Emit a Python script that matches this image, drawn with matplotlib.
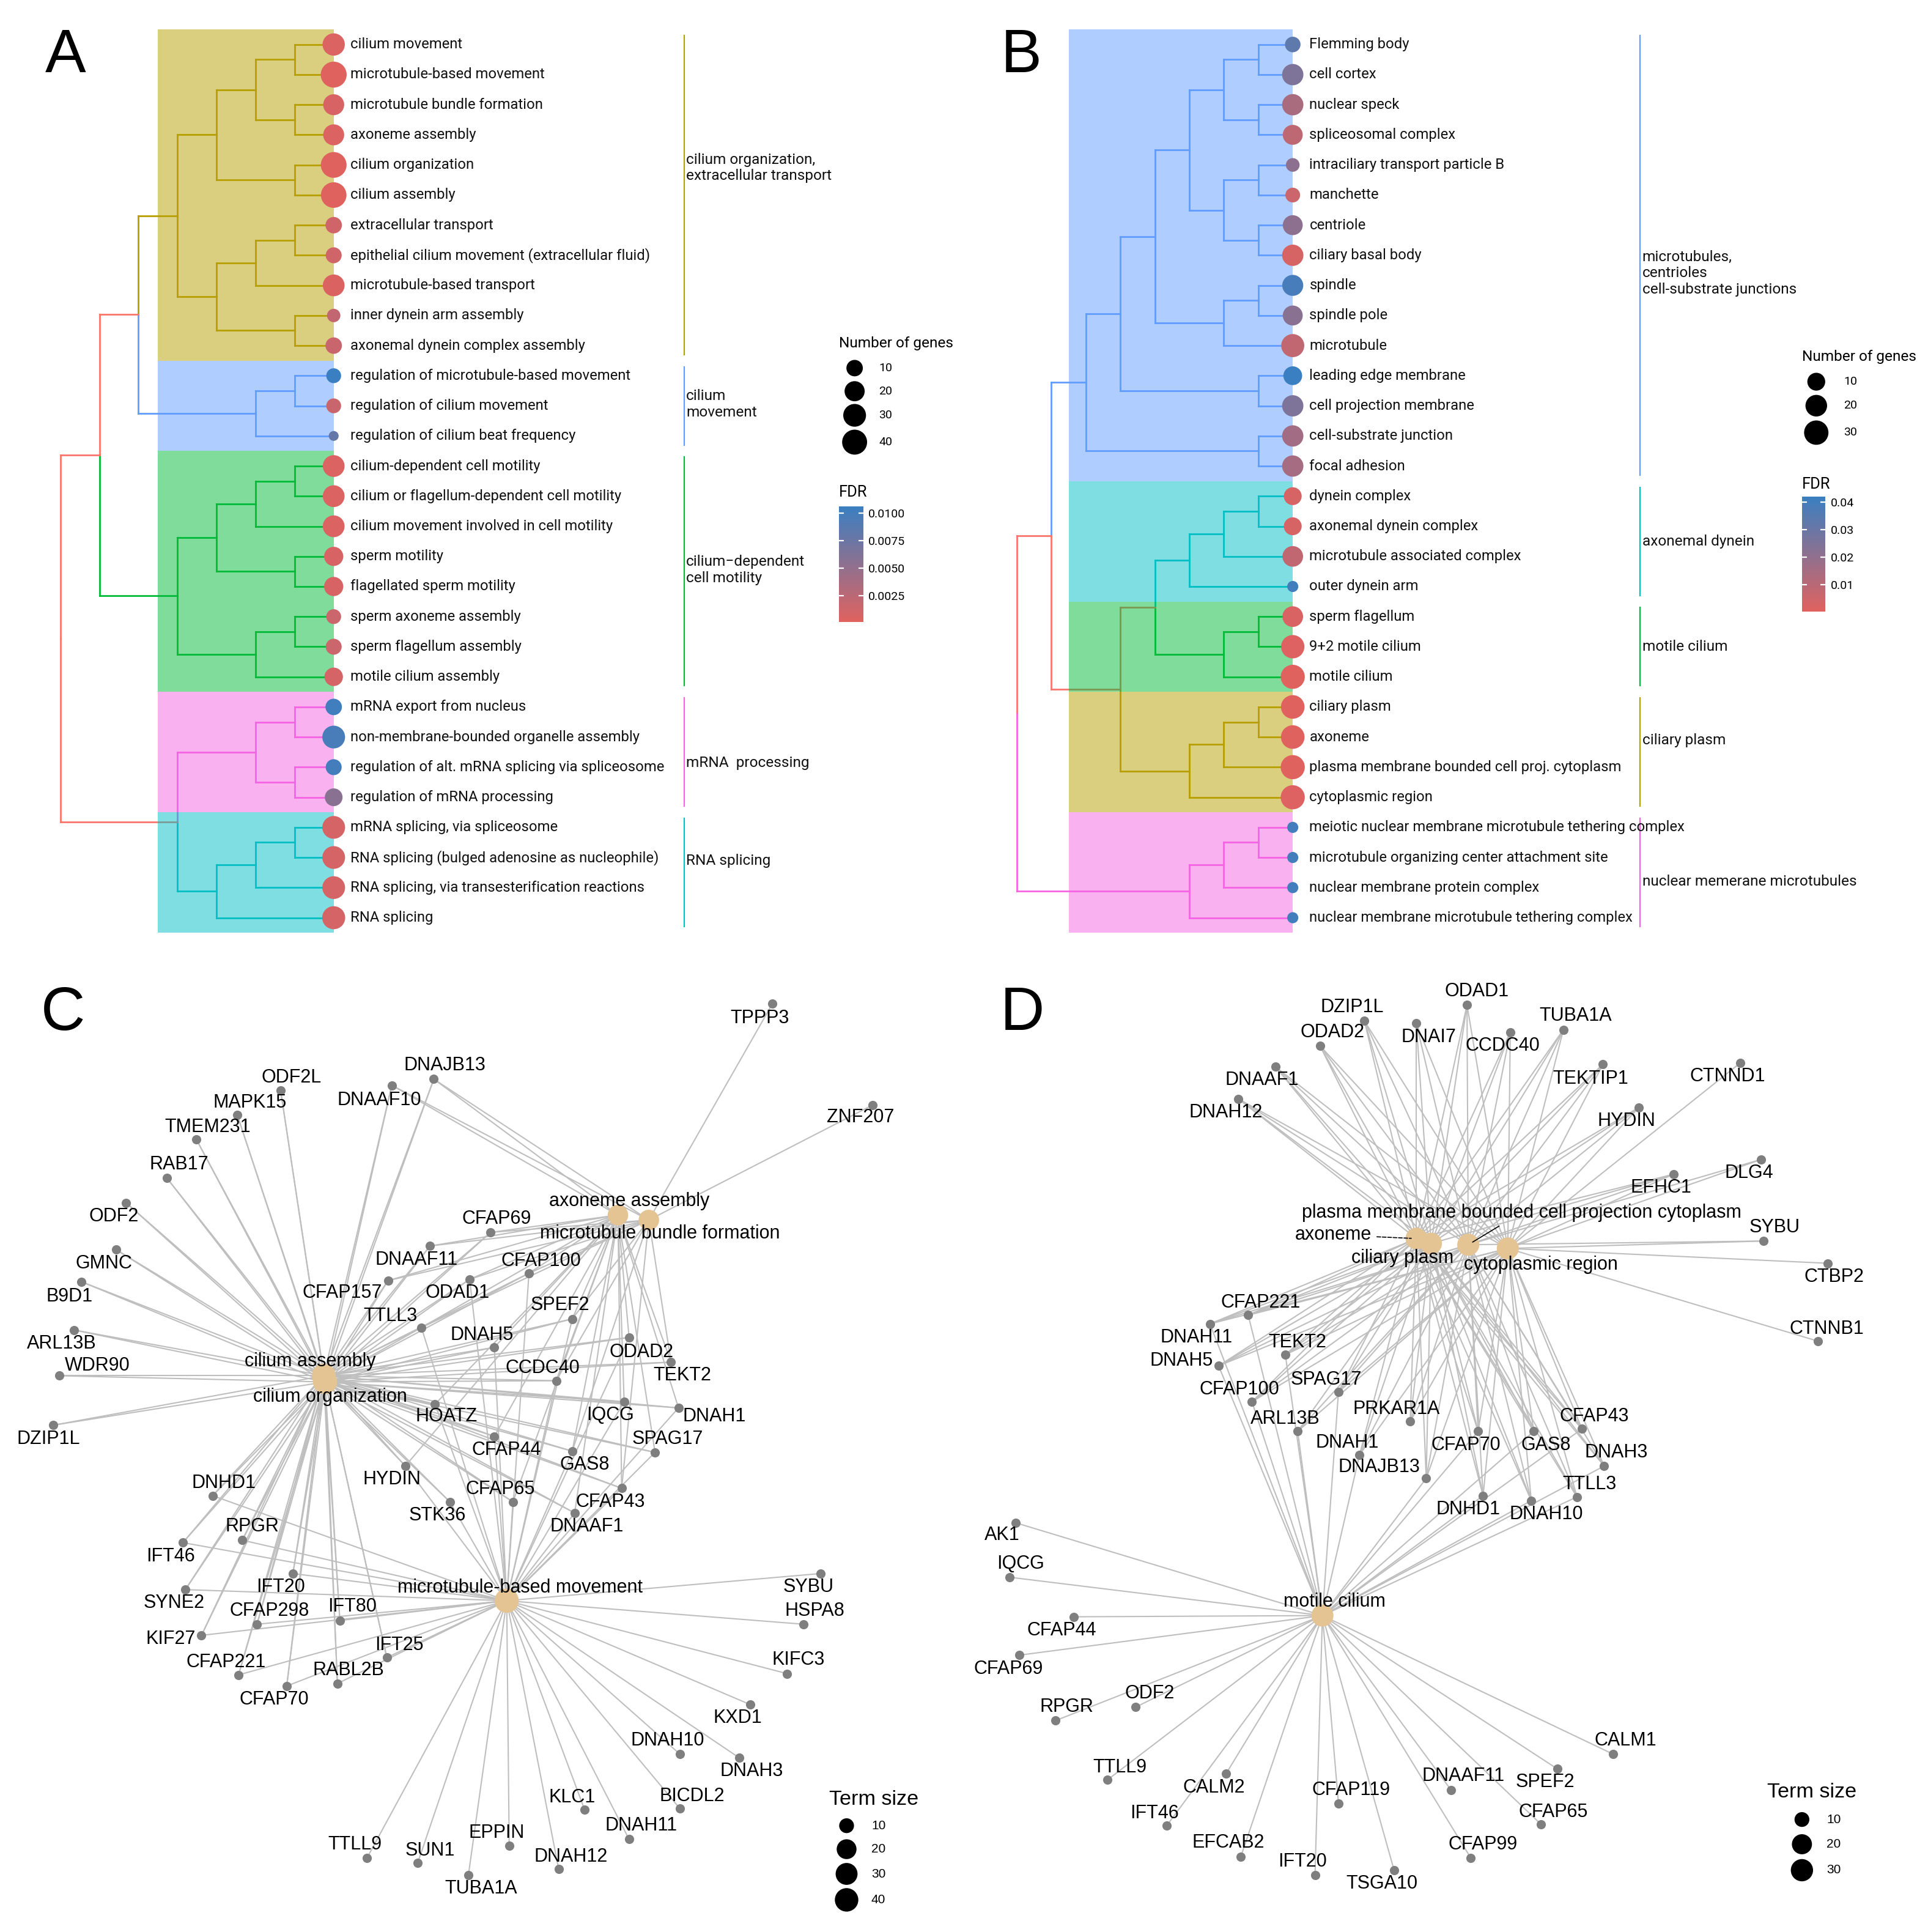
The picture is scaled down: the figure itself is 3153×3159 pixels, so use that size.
#!/usr/bin/env python3
"""Four-panel GO enrichment figure.

A, B: clustered enrichment trees (BP / CC) with FDR-coloured, size-scaled leaves.
C, D: gene-term networks for the top terms.
"""

import matplotlib
matplotlib.use("Agg")
import matplotlib.pyplot as plt
import matplotlib.transforms as mtransforms
import numpy as np
from matplotlib.cm import ScalarMappable
from matplotlib.collections import LineCollection
from matplotlib.colors import LinearSegmentedColormap, Normalize
from matplotlib.patches import Rectangle

OUT_PATH = "out.png"
DPI = 200
FIG_W, FIG_H = 3153 / DPI, 3159 / DPI
# layout was measured on a 1560 x 1563 grid of the original figure
REF_W, REF_H = 1560.0, 1563.0
PT = (3153 / REF_W) * 72.0 / DPI  # points per grid unit

TREE_FONT = ["Roboto", "DejaVu Sans"]
NET_FONT = ["Liberation Sans", "DejaVu Sans"]
TREE_WEIGHT = "normal"

GROUP_COLORS = {
    "gold": "#B79F00",
    "green": "#00BA38",
    "cyan": "#00BFC4",
    "blue": "#619CFF",
    "pink": "#F564E3",
}
MIXED_COLOR = "#F8766D"
FDR_CMAP = LinearSegmentedColormap.from_list("fdr", ["#E0625F", "#3A7FC1"])
TERM_COLOR = "#E5C494"
GENE_COLOR = "#7F7F7F"
EDGE_COLOR = "#BEBEBE"

# ---------------------------------------------------------------- panel A
A_TERMS = [
    "cilium movement", "microtubule-based movement", "microtubule bundle formation",
    "axoneme assembly", "cilium organization", "cilium assembly",
    "extracellular transport", "epithelial cilium movement (extracellular fluid)",
    "microtubule-based transport", "inner dynein arm assembly",
    "axonemal dynein complex assembly", "regulation of microtubule-based movement",
    "regulation of cilium movement", "regulation of cilium beat frequency",
    "cilium-dependent cell motility", "cilium or flagellum-dependent cell motility",
    "cilium movement involved in cell motility", "sperm motility",
    "flagellated sperm motility", "sperm axoneme assembly", "sperm flagellum assembly",
    "motile cilium assembly", "mRNA export from nucleus",
    "non-membrane-bounded organelle assembly",
    "regulation of alt. mRNA splicing via spliceosome", "regulation of mRNA processing",
    "mRNA splicing, via spliceosome", "RNA splicing (bulged adenosine as nucleophile)",
    "RNA splicing, via transesterification reactions", "RNA splicing",
]
A_NGENES = [28, 45, 23, 23, 44, 43, 10, 9, 26, 5, 10, 7, 7, 3, 26, 26, 26, 17, 17,
            7, 9, 15, 10, 30, 9, 13, 30, 30, 30, 31]
A_FDR = [0.0004, 0.0001, 0.0006, 0.0004, 0.0001, 0.0001, 0.0012, 0.0012, 0.0005,
         0.0020, 0.0016, 0.0106, 0.0016, 0.0080, 0.0004, 0.0004, 0.0004, 0.0006,
         0.0006, 0.0015, 0.0015, 0.0008, 0.0102, 0.0097, 0.0100, 0.0056, 0.0008,
         0.0008, 0.0008, 0.0008]
A_TREE = (
    (
        (
            ((((0, 1), (2, 3)), (4, 5)), (((6, 7), 8), (9, 10))),
            ((11, 12), 13),
        ),
        ((((14, 15), 16), (17, 18)), ((19, 20), 21)),
    ),
    (((22, 23), (24, 25)), (((26, 27), 28), 29)),
)
A_CLUSTERS = [(0, 10, "gold"), (11, 13, "blue"), (14, 21, "green"),
              (22, 25, "pink"), (26, 29, "cyan")]
A_CLUSTER_NAMES = ["cilium organization,\nextracellular transport", "cilium\nmovement",
                   "cilium\u2212dependent\ncell motility", "mRNA  processing",
                   "RNA splicing"]
A_CLUSTER_ROWS = [4.1, 11.95, 17.45, 23.86, 27.1]
A_SIZE_LEGEND = [10, 20, 30, 40]
A_FDR_TICKS = [0.0025, 0.0050, 0.0075, 0.0100]

# ---------------------------------------------------------------- panel B
B_TERMS = [
    "Flemming body", "cell cortex", "nuclear speck", "spliceosomal complex",
    "intraciliary transport particle B", "manchette", "centriole",
    "ciliary basal body", "spindle", "spindle pole", "microtubule",
    "leading edge membrane", "cell projection membrane", "cell-substrate junction",
    "focal adhesion", "dynein complex", "axonemal dynein complex",
    "microtubule associated complex", "outer dynein arm", "sperm flagellum",
    "9+2 motile cilium", "motile cilium", "ciliary plasm", "axoneme",
    "plasma membrane bounded cell proj. cytoplasm", "cytoplasmic region",
    "meiotic nuclear membrane microtubule tethering complex",
    "microtubule organizing center attachment site",
    "nuclear membrane protein complex", "nuclear membrane microtubule tethering complex",
]
B_NGENES = [6, 19, 19, 15, 4, 5, 15, 19, 18, 15, 25, 12, 19, 19, 19, 10, 10, 17, 3,
            17, 26, 29, 27, 27, 29, 29, 3, 3, 3, 3]
B_FDR = [0.033, 0.025, 0.014, 0.009, 0.021, 0.006, 0.021, 0.003, 0.039, 0.022,
         0.008, 0.042, 0.025, 0.016, 0.015, 0.003, 0.003, 0.008, 0.040, 0.002,
         0.001, 0.0005, 0.0003, 0.0003, 0.0003, 0.001, 0.040, 0.040, 0.040, 0.040]
B_TREE = (
    (
        ((((((0, 1), (2, 3)), ((4, 5), (6, 7))), ((8, 9), 10)), (11, 12)), (13, 14)),
        (((((15, 16), 17), 18), ((19, 20), 21)), (((22, 23), 24), 25)),
    ),
    (((26, 27), 28), 29),
)
B_CLUSTERS = [(0, 14, "blue"), (15, 18, "cyan"), (19, 21, "green"),
              (22, 25, "gold"), (26, 29, "pink")]
B_CLUSTER_NAMES = ["microtubules,\ncentrioles\ncell-substrate junctions",
                   "axonemal dynein", "motile cilium", "ciliary plasm",
                   "nuclear memerane microtubules"]
B_CLUSTER_ROWS = [7.6, 16.5, 20.0, 23.1, 27.8]
B_SIZE_LEGEND = [10, 20, 30]
B_FDR_TICKS = [0.01, 0.02, 0.03, 0.04]

# ---------------------------------------------------------------- panel C
C_TERMS = ["cilium assembly", "cilium organization", "axoneme assembly",
           "microtubule bundle formation", "microtubule-based movement"]
C_TERM_CODES = "AOXBM"
C_TERM_SIZE = [43, 44, 23, 23, 45]
C_GENES = [
    "TPPP3", "ZNF207", "DNAJB13", "DNAAF10", "ODF2L", "MAPK15", "TMEM231", "RAB17",
    "ODF2", "GMNC", "B9D1", "ARL13B", "WDR90", "DZIP1L", "CFAP69", "DNAAF11",
    "CFAP100", "CFAP157", "ODAD1", "SPEF2", "TTLL3", "DNAH5", "ODAD2", "TEKT2",
    "CCDC40", "IQCG", "DNAH1", "HOATZ", "CFAP44", "SPAG17", "GAS8", "HYDIN",
    "DNHD1", "CFAP65", "CFAP43", "STK36", "DNAAF1", "RPGR", "IFT46", "IFT20",
    "SYNE2", "CFAP298", "IFT80", "KIF27", "IFT25", "CFAP221", "RABL2B", "CFAP70",
    "SYBU", "HSPA8", "KIFC3", "KXD1", "DNAH10", "DNAH3", "BICDL2", "KLC1",
    "DNAH11", "EPPIN", "DNAH12", "TTLL9", "SUN1", "TUBA1A",
]
C_GENE_TERMS = [
    "B", "B", "AOXB", "AOXB", "AO", "AO", "AO", "AO",
    "AO", "AO", "AO", "AO", "AO", "AO", "AOXB", "AOXB",
    "AOXBM", "AOXB", "AOXBM", "AOXBM", "AOXBM", "AOXM", "AOXM", "AOXB",
    "AOXBM", "AOXM", "AOXM", "AOXM", "AOXM", "AOXM", "AOXBM", "AOXM",
    "AOM", "AOXM", "AOXBM", "AOM", "AOXM", "AOM", "AOM", "AOM",
    "AOM", "AOM", "AOM", "AOM", "AOM", "AOM", "AOM", "AOM",
    "M", "M", "M", "M", "M", "M", "M", "M",
    "M", "M", "M", "M", "M", "M",
]
C_SIZE_LEGEND = [10, 20, 30, 40]

# ---------------------------------------------------------------- panel D
D_TERMS = ["axoneme", "ciliary plasm", "plasma membrane bounded cell projection cytoplasm",
           "cytoplasmic region", "motile cilium"]
D_TERM_CODES = "XPCRM"
D_TERM_SIZE = [27, 27, 29, 29, 29]
D_GENES = [
    "ODAD1", "DZIP1L", "TUBA1A", "ODAD2", "DNAI7", "CCDC40", "TEKTIP1", "CTNND1",
    "DNAAF1", "DNAH12", "HYDIN", "DLG4", "EFHC1", "SYBU", "CTBP2", "CTNNB1",
    "CFAP221", "DNAH11", "TEKT2", "DNAH5", "SPAG17", "CFAP100", "PRKAR1A", "CFAP43",
    "ARL13B", "DNAH1", "CFAP70", "GAS8", "DNAH3", "DNAJB13", "TTLL3", "DNHD1",
    "DNAH10", "AK1", "IQCG", "CFAP44", "CFAP69", "ODF2", "RPGR", "CALM1",
    "TTLL9", "CALM2", "SPEF2", "DNAAF11", "CFAP119", "IFT46", "CFAP65", "EFCAB2",
    "CFAP99", "IFT20", "TSGA10",
]
D_GENE_TERMS = [
    "XPCR", "XPCR", "XPCR", "XPCR", "XPCR", "XPCR", "XPCR", "R",
    "XPCR", "XPCR", "XPCR", "CR", "XPCR", "CR", "R", "R",
    "XPCRM", "XPCRM", "XPCRM", "XPCRM", "XPCRM", "XPCRM", "XPCR", "XPCRM",
    "PCRM", "XPCRM", "XPCRM", "XPCRM", "XPCRM", "XPCRM", "XPCRM", "XPCRM",
    "XPCRM", "M", "M", "M", "M", "M", "M", "M",
    "M", "M", "M", "M", "M", "M", "M", "M",
    "M", "M", "M",
]
D_SIZE_LEGEND = [10, 20, 30]

# ---------------------------------------------------------------- network layouts
# node coordinates of the force layout, on the 1560 x 1563 grid
C_TERM_POS = [(262, 1113), (263, 1118), (500, 983), (525, 987), (410, 1295)]
C_TERM_LABEL_OFF = [(-11, -11.5), (4, 12), (9, -11.5), (9, 11), (11, -10.6)]
C_GENE_POS = [
    (625, 812), (706, 894), (351, 873), (317, 878), (227, 882), (192, 902),
    (159, 922), (135, 953), (102, 973), (94, 1011), (66, 1037), (60, 1076),
    (48, 1113), (43, 1153), (397, 997), (348, 1008), (428, 1030), (314, 1036),
    (380, 1035), (463, 1067), (341, 1074), (400, 1090), (509, 1082), (543, 1102),
    (450, 1117), (505, 1134), (549, 1139), (352, 1136), (400, 1162), (530, 1175),
    (463, 1174), (328, 1186), (172, 1210), (415, 1215), (503, 1204), (364, 1215),
    (465, 1224), (196, 1246), (148, 1248), (237, 1273), (150, 1286), (208, 1314),
    (275, 1311), (163, 1323), (313, 1341), (193, 1355), (273, 1362), (232, 1364),
    (664, 1273), (650, 1314), (637, 1354), (607, 1379), (550, 1419), (598, 1422),
    (550, 1463), (473, 1464), (509, 1488), (412, 1493), (452, 1512), (297, 1503),
    (338, 1507), (379, 1517),
]
C_GENE_LABEL_OFF = [
    (-10, 12), (-10, 10), (9, -11), (-10, 12), (9, -10), (10, -10),
    (9, -10), (10, -11), (-10, 11), (-10, 11), (-10, 12), (-10, 11),
    (31, -8), (-4, 11), (5, -11), (-11, 11), (10, -10), (-37, 10),
    (-10, 11), (-10, -11), (-25, -9), (-10, -10), (10, 12), (9, 11),
    (-11, -10), (-11, 11), (29, 7), (9, 10), (10, 11), (10, -11),
    (10, 11), (-11, 11), (9, -10), (-10, -10), (-9, 11), (-10, 11),
    (10, 11), (8, -11), (-10, 11), (-10, 11), (-9, 11), (10, -11),
    (10, -11), (-25, 3), (10, -10), (-10, -10), (9, -11), (-10, 11),
    (-10, 11), (9, -11), (9, -11), (-10, 11), (-10, -11), (10, 11),
    (10, -10), (-10, -10), (10, -11), (-10, -10), (10, -10), (-10, -11),
    (10, -10), (10, 11),
]
D_TERM_POS = [(1146, 1002), (1158, 1006), (1188, 1007), (1220, 1010), (1070, 1307)]
D_TERM_LABEL_OFF = [(-67, -3), (-23, 12), (43, -26), (27, 13), (10, -11)]
D_TERM_LEADER = {0: "--", 2: "-"}
D_GENE_POS = [
    (1187, 813), (1104, 826), (1265, 833), (1068, 846), (1146, 828), (1222, 835),
    (1297, 861), (1408, 860), (1032, 863), (1002, 889), (1326, 896), (1425, 938),
    (1354, 950), (1427, 1004), (1479, 1022), (1471, 1085), (1010, 1064), (979, 1071),
    (1040, 1096), (986, 1105), (1083, 1126), (1013, 1134), (1141, 1150), (1280, 1156),
    (1050, 1158), (1100, 1177), (1196, 1158), (1241, 1158), (1298, 1186), (1154, 1196),
    (1276, 1211), (1200, 1210), (1239, 1214), (822, 1232), (817, 1276), (869, 1308),
    (825, 1339), (919, 1381), (854, 1392), (1305, 1419), (896, 1440), (992, 1435),
    (1260, 1431), (1174, 1448), (1083, 1459), (944, 1477), (1247, 1476), (1004, 1502),
    (1190, 1503), (1064, 1517), (1128, 1513),
]
D_GENE_LABEL_OFF = [
    (8, -11), (-10, -11), (10, -11), (10, -11), (10, 11), (-6, 11),
    (-10, 12), (-10, 11), (-11, 11), (-10, 11), (-10, 11), (-10, 11),
    (-10, 11), (9, -11), (5, 11), (7, -10), (10, -10), (-11, 11),
    (10, -10), (-30, -4), (-10, -10), (-10, -10), (-11, -10), (10, -10),
    (-10, -10), (-10, -10), (-10, 11), (10, 11), (10, -11), (-38, -9),
    (10, -10), (-12, 11), (12, 11), (-11, 10), (9, -11), (-10, 11),
    (-9, 11), (11, -11), (9, -11), (10, -11), (10, -10), (-10, 11),
    (-10, 11), (10, -11), (10, -11), (-10, -10), (10, -10), (-10, -11),
    (10, -11), (-10, -11), (-10, 11),
]


def diam_scale(nmin, nmax, dmin, dmax):
    """ggplot-like area scale: count -> dot diameter in grid units."""
    def f(n):
        frac = np.clip((np.asarray(n, float) - nmin) / (nmax - nmin), 0, None)
        return dmin + (dmax - dmin) * np.sqrt(frac)
    return f


def area(d):
    return (np.asarray(d) * PT) ** 2


def grid_axes(fig, x0, y0, x1, y1):
    return fig.add_axes([x0 / REF_W, 1 - y1 / REF_H, (x1 - x0) / REF_W, (y1 - y0) / REF_H])


LEAF0_PX, ROW_PX = 36.0, 24.36


def tree_panel(fig, box, leaf_px, level_px, bracket_px, tree, clusters, names, rows,
               terms, ngenes, fdr, dscale, norm):
    x0, y0, x1, y1 = box
    ax = grid_axes(fig, x0, y0, x1, y1)
    ax.set_xlim((x0 - leaf_px) / level_px, (x1 - leaf_px) / level_px)
    ax.set_ylim((y1 - LEAF0_PX) / ROW_PX, (y0 - LEAF0_PX) / ROW_PX)
    ax.axis("off")

    group_of = {}
    for first, last, g in clusters:
        for leaf in range(first, last + 1):
            group_of[leaf] = g

    segs, clade_depth = [], {}

    def walk(node):
        if isinstance(node, int):
            return 0, float(node), [node]
        kids = [walk(k) for k in node]
        depth = 1 + max(k[0] for k in kids)
        y = float(np.mean([k[1] for k in kids]))
        leaves = sum((k[2] for k in kids), [])
        for kd, ky, kl in kids:
            segs.append((kd, ky, depth, y, kl))
        clade_depth[(min(leaves), max(leaves))] = depth
        return depth, y, leaves

    walk(tree)
    for kd, ky, pd, py, kl in segs:
        groups = {group_of[leaf] for leaf in kl}
        col = GROUP_COLORS[groups.pop()] if len(groups) == 1 else MIXED_COLOR
        ax.plot([-kd, -pd], [ky, ky], color=col, lw=1.0, solid_capstyle="projecting", zorder=1)
        ax.plot([-pd, -pd], [ky, py], color=col, lw=1.0, solid_capstyle="projecting", zorder=1)

    # clade highlights, aligned to the deepest clade
    xmin = -(max(clade_depth[(f, l)] for f, l, _ in clusters) + 0.5)
    for first, last, g in clusters:
        ax.add_patch(Rectangle((xmin, first - 0.5), -xmin, last - first + 1,
                               facecolor=GROUP_COLORS[g], alpha=0.5, lw=0, zorder=2))

    idx = np.arange(len(terms))
    ax.scatter(np.zeros(len(terms)), idx, s=area(dscale(ngenes)), c=fdr, cmap=FDR_CMAP,
               norm=norm, linewidths=0, zorder=3)
    for i, t in enumerate(terms):
        ax.annotate(t, (0, i), xytext=(13.5 * PT, 0), textcoords="offset points",
                    ha="left", va="center", fontsize=8.6, color="#111111",
                    family=TREE_FONT, weight=TREE_WEIGHT, zorder=4)

    bx = (bracket_px - leaf_px) / level_px
    for (first, last, g), name, row in zip(clusters, names, rows):
        ax.plot([bx, bx], [first - 0.3, last + 0.3], color=GROUP_COLORS[g], lw=0.8, zorder=1)
        ax.annotate(name, (bx, row), xytext=(1.3, 0), textcoords="offset points",
                    ha="left", va="center", fontsize=8.8, color="#111111",
                    family=TREE_FONT, weight=TREE_WEIGHT, linespacing=1.2)
    return ax


def size_legend(fig, ref, title, values, dscale, title_xy, dot_x, dot_ys, label_x,
                title_size, label_size, family):
    fig.text(title_xy[0], title_xy[1], title, transform=ref, ha="left", va="center",
             fontsize=title_size, family=family)
    ax = fig.axes[-1]
    ax.scatter([dot_x] * len(values), dot_ys, s=area(dscale(values)), c="black",
               linewidths=0, transform=ref, clip_on=False, zorder=5)
    for v, y in zip(values, dot_ys):
        fig.text(label_x, y, str(v), transform=ref, ha="left", va="center",
                 fontsize=label_size, family=family)


def fdr_bar(fig, ref, box, norm, ticks, fmt, title_xy):
    x0, y0, x1, y1 = box
    cax = grid_axes(fig, x0, y0, x1, y1)
    cb = fig.colorbar(ScalarMappable(norm=norm, cmap=FDR_CMAP), cax=cax, ticks=ticks)
    cb.outline.set_visible(False)
    cax.set_yticklabels([fmt.format(t) for t in ticks])
    cax.tick_params(axis="y", direction="in", left=True, right=True, labelleft=False,
                    labelright=True, color="white", length=3.0, width=0.8,
                    labelsize=7, pad=3)
    for lab in cax.get_yticklabels():
        lab.set_family(TREE_FONT)
    fig.text(title_xy[0], title_xy[1], "FDR", transform=ref, ha="left", va="center",
             fontsize=9.2, family=TREE_FONT)


def network_panel(fig, box, terms, codes, term_sizes, term_pos, term_off, genes,
                  gene_terms, gene_pos, gene_off, dscale, leaders=None):
    x0, y0, x1, y1 = box
    ax = grid_axes(fig, x0, y0, x1, y1)
    ax.set_xlim(x0, x1)
    ax.set_ylim(y1, y0)
    ax.axis("off")
    code_idx = {c: i for i, c in enumerate(codes)}
    segs = [[gene_pos[g], term_pos[code_idx[c]]]
            for g, cs in enumerate(gene_terms) for c in cs]
    ax.add_collection(LineCollection(segs, colors=EDGE_COLOR, linewidths=0.75, zorder=1))
    tx, ty = np.array(term_pos, float).T
    ax.scatter(tx, ty, s=area(dscale(term_sizes)), c=TERM_COLOR, linewidths=0, zorder=2)
    gx, gy = np.array(gene_pos, float).T
    ax.scatter(gx, gy, s=area(7.5), c=GENE_COLOR, linewidths=0, zorder=3)
    for name, (x, y), (dx, dy) in zip(genes, gene_pos, gene_off):
        ax.text(x + dx, y + dy, name, ha="center", va="center", fontsize=11.0,
                family=NET_FONT, zorder=4)
    leaders = leaders or {}
    for i, (name, (x, y), (dx, dy)) in enumerate(zip(terms, term_pos, term_off)):
        if i in leaders:
            ax.annotate(name, xy=(x, y), xytext=(x + dx, y + dy), ha="center", va="center",
                        fontsize=11.0, family=NET_FONT, zorder=4,
                        arrowprops=dict(arrowstyle="-", color="black", lw=0.6,
                                        linestyle=leaders[i], shrinkA=1, shrinkB=3))
        else:
            ax.text(x + dx, y + dy, name, ha="center", va="center", fontsize=11.0,
                    family=NET_FONT, zorder=4)
    return ax


def main():
    plt.rcParams["font.family"] = TREE_FONT
    fig = plt.figure(figsize=(FIG_W, FIG_H), dpi=DPI)
    ref = mtransforms.Affine2D().scale(1 / REF_W, -1 / REF_H).translate(0, 1) + fig.transFigure

    # ---- A
    a_norm = Normalize(min(A_FDR), max(A_FDR))
    a_scale = diam_scale(min(A_NGENES), max(A_NGENES), 8.0, 21.0)
    tree_panel(fig, (0, 0, 780, 780), 270, 31.6, 553.5, A_TREE, A_CLUSTERS,
               A_CLUSTER_NAMES, A_CLUSTER_ROWS, A_TERMS, A_NGENES, A_FDR, a_scale, a_norm)
    size_legend(fig, ref, "Number of genes", A_SIZE_LEGEND, a_scale, (679, 278), 691.5,
                [297.8, 316.5, 336, 357.7], 711, 8.8, 7, TREE_FONT)
    fdr_bar(fig, ref, (679, 409.7, 698.5, 503), a_norm, A_FDR_TICKS, "{:.4f}", (679, 398.5))

    # ---- B
    b_norm = Normalize(min(B_FDR), max(B_FDR))
    b_scale = diam_scale(min(B_NGENES), max(B_NGENES), 9.0, 19.5)
    tree_panel(fig, (780, 0, 1560, 780), 1046, 27.9, 1327, B_TREE, B_CLUSTERS,
               B_CLUSTER_NAMES, B_CLUSTER_ROWS, B_TERMS, B_NGENES, B_FDR, b_scale, b_norm)
    size_legend(fig, ref, "Number of genes", B_SIZE_LEGEND, b_scale, (1458, 288.6), 1469.6,
                [308.8, 328.2, 350], 1491.8, 8.8, 7, TREE_FONT)
    fdr_bar(fig, ref, (1458, 401.6, 1477, 494.8), b_norm, B_FDR_TICKS, "{:.2f}", (1458, 391.7))

    # ---- C
    c_scale = diam_scale(10, 40, 12.0, 19.0)
    network_panel(fig, (0, 780, 780, 1563), C_TERMS, C_TERM_CODES, C_TERM_SIZE,
                  C_TERM_POS, C_TERM_LABEL_OFF, C_GENES, C_GENE_TERMS, C_GENE_POS,
                  C_GENE_LABEL_OFF, c_scale)
    size_legend(fig, ref, "Term size", C_SIZE_LEGEND, c_scale, (671, 1456), 685,
                [1477, 1496, 1516, 1537], 705, 12.3, 7.5, NET_FONT)

    # ---- D
    d_scale = diam_scale(10, 30, 12.0, 18.0)
    network_panel(fig, (780, 780, 1560, 1563), D_TERMS, D_TERM_CODES, D_TERM_SIZE,
                  D_TERM_POS, D_TERM_LABEL_OFF, D_GENES, D_GENE_TERMS, D_GENE_POS,
                  D_GENE_LABEL_OFF, d_scale, leaders=D_TERM_LEADER)
    size_legend(fig, ref, "Term size", D_SIZE_LEGEND, d_scale, (1430, 1450), 1458,
                [1472, 1492, 1513], 1478, 12.3, 7.5, NET_FONT)

    # panel letters
    for letter, (x, y) in zip("ABCD", [(53, 58.6), (826.5, 58.6), (51, 833), (827, 833)]):
        fig.text(x, y, letter, transform=ref, ha="center", va="baseline",
                 fontsize=36, family=NET_FONT)

    fig.savefig(OUT_PATH, dpi=DPI)
    print(f"Saved figure to {OUT_PATH}")


if __name__ == "__main__":
    main()
